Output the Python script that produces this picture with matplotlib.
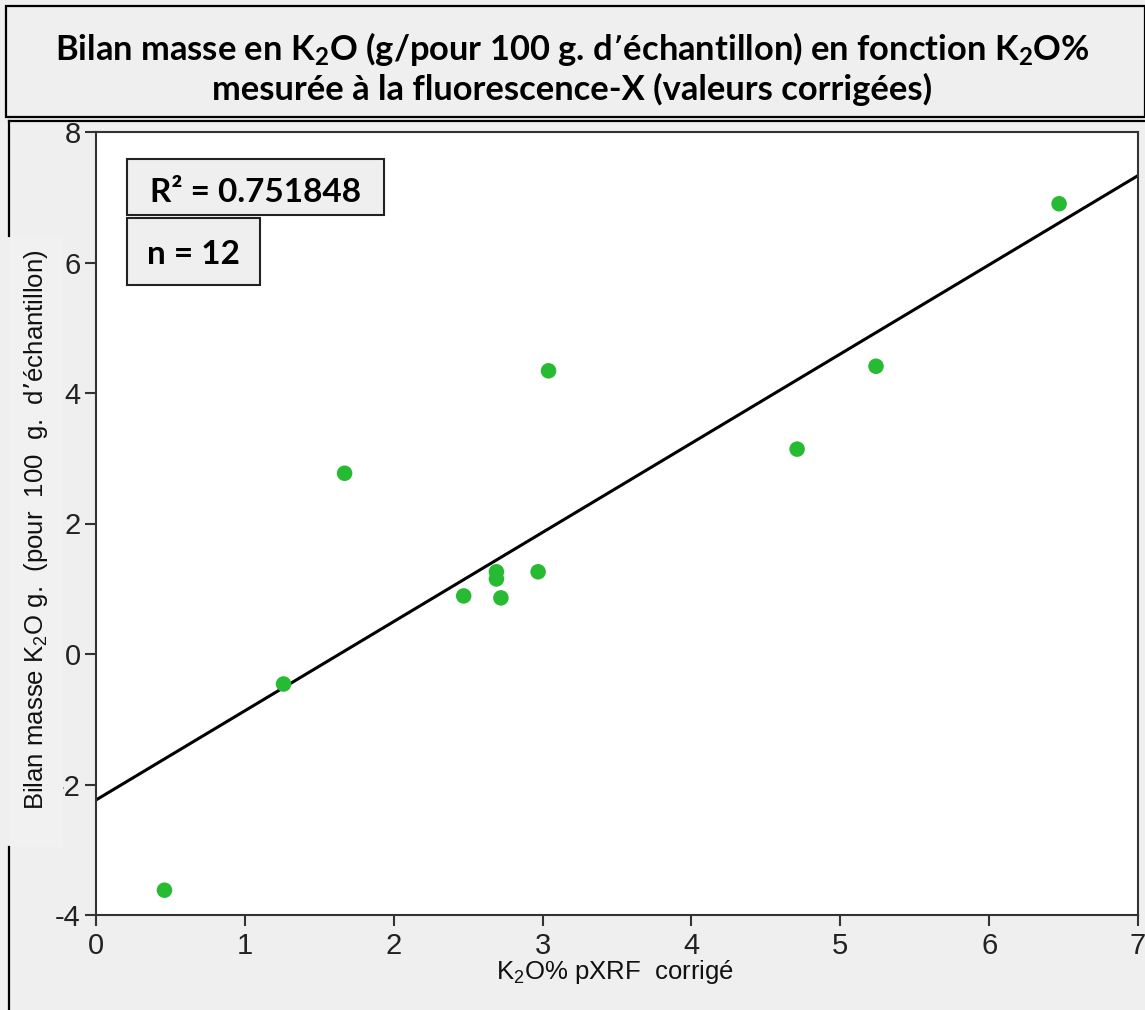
import numpy as np
import matplotlib.pyplot as plt
from matplotlib.patches import Rectangle
from matplotlib.lines import Line2D

## Measured values: K2O% pXRF (corrected) vs K2O mass balance
k2o_pxrf = [0.46, 1.26, 1.67, 2.47, 2.69, 2.69, 2.72, 2.97, 3.04, 4.71, 5.24, 6.47]
bilan_k2o = [-3.62, -0.46, 2.77, 0.89, 1.15, 1.26, 0.86, 1.26, 4.34, 3.14, 4.41, 6.90]
r2_text = 'R\u00b2 = 0.751848'
n_text = 'n = 12'
x_ticks = [0, 1, 2, 3, 4, 5, 6, 7]
y_ticks = [-4, -2, 0, 2, 4, 6, 8]

W, H = 1145, 1010
BG = '#efefef'

fig = plt.figure(figsize=(W/100, H/100), dpi=100, facecolor=BG)


def px_rect(x0, y0, x1, y1, **kw):
    ## rectangle given in pixel coords (origin top-left)
    return Rectangle((x0/W, 1 - y1/H), (x1 - x0)/W, (y1 - y0)/H,
                     transform=fig.transFigure, **kw)


def px_line(x0, y0, x1, y1, **kw):
    return Line2D([x0/W, x1/W], [1 - y0/H, 1 - y1/H], transform=fig.transFigure, **kw)


## Title box
fig.add_artist(px_rect(6, 6, 1145, 117, facecolor=BG, edgecolor='black', linewidth=1.6))
fig.text(0.5, 1 - 49/H, r'Bilan masse en K$\mathregular{_2}$O (g/pour 100 g. d’échantillon) en fonction K$\mathregular{_2}$O%',
         ha='center', va='center', fontsize=24.8, fontweight='bold', family='Lato')
fig.text(0.5, 1 - 89/H, 'mesurée à la fluorescence-X (valeurs corrigées)',
         ha='center', va='center', fontsize=24.8, fontweight='bold', family='Lato')

## Frame of the chart panel (left edge interrupted by the y label patch)
fig.add_artist(px_line(9, 121, 1145, 121, color='black', linewidth=1.6))
fig.add_artist(px_line(9, 121, 9, 236, color='black', linewidth=1.6))
fig.add_artist(px_line(9, 847, 9, 1010, color='black', linewidth=1.6))
fig.add_artist(px_rect(9, 236, 63, 847, facecolor='#f1f1f1', edgecolor='none'))

ax = fig.add_axes([96/W, 1 - 915/H, (1138 - 96)/W, (915 - 132)/H])
ax.set_facecolor('white')

## Regression line across the whole x range
coef = np.polyfit(k2o_pxrf, bilan_k2o, 1)
xl = np.array([0, 7])
ax.plot(xl, np.polyval(coef, xl), color='black', linewidth=2.2, zorder=2)

ax.scatter(k2o_pxrf, bilan_k2o, s=125, color='#27bb33', edgecolors='none', zorder=3)

ax.set_xlim(0, 7)
ax.set_ylim(-4, 8)
ax.set_xticks(x_ticks)
ax.set_yticks(y_ticks)
ax.set_xticklabels([str(t) for t in x_ticks])
ax.set_yticklabels([str(t) for t in y_ticks])
ax.tick_params(direction='out', length=8, width=1.5, color='#333333', labelcolor='#222222',
               labelsize=21, pad=3)
ax.tick_params(axis='x', pad=4)
for lab in ax.get_xticklabels() + ax.get_yticklabels():
    lab.set_family('Liberation Sans')
for sp in ax.spines.values():
    sp.set_color('#333333')
    sp.set_linewidth(1.5)

## Axis titles
fig.text(615/W, 1 - 972/H, r'K$\mathregular{_2}$O% pXRF  corrigé', ha='center', va='center',
         family='Liberation Sans', fontsize=18.5, color='#111111')
fig.text(36/W, 1 - 530/H, r'Bilan masse K$\mathregular{_2}$O g.  (pour  100  g.  d’échantillon)',
         ha='center', va='center', rotation=90, family='Liberation Sans', fontsize=18.5,
         color='#111111', zorder=3)

## Statistics boxes
fig.add_artist(px_rect(127, 159, 384, 215, facecolor=BG, edgecolor='#222222', linewidth=1.5))
fig.add_artist(px_rect(127, 218, 260, 285, facecolor=BG, edgecolor='#222222', linewidth=1.5))
fig.text(255/W, 1 - 193/H, r2_text, ha='center', va='center', fontsize=24, fontweight='bold', family='Lato')
fig.text(193/W, 1 - 254/H, n_text, ha='center', va='center', fontsize=24, fontweight='bold', family='Lato')

fig.savefig('out.png', dpi=100, facecolor=BG)
